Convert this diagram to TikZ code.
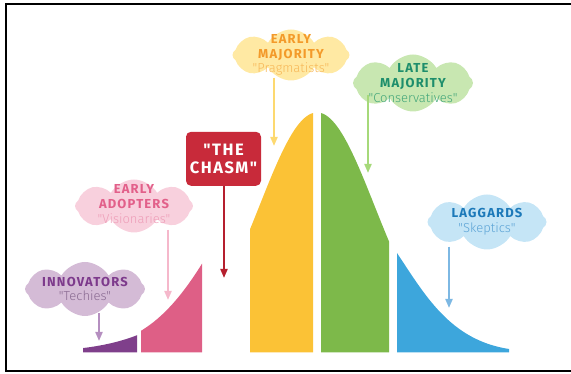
\documentclass[tikz,border=0pt]{standalone}
\usepackage{fontspec}
\setmainfont{Fira Sans}
\newfontfamily\headfont[LetterSpace=9]{Fira Sans}
\IfFontExistsTF{Fira Sans Light}{\newfontfamily\tagfont{Fira Sans Light}}{\newfontfamily\tagfont{Fira Sans}}
\usetikzlibrary{shapes.symbols,arrows.meta}

\definecolor{innobar}{HTML}{7F3F8B}
\definecolor{innofill}{HTML}{D4BBD6}
\definecolor{innohead}{HTML}{7D3A8C}
\definecolor{innotag}{HTML}{8A6B92}
\definecolor{innoarrow}{HTML}{B58FC0}
\definecolor{adoptbar}{HTML}{DE5F86}
\definecolor{adoptfill}{HTML}{F8D0DD}
\definecolor{adopthead}{HTML}{E2608A}
\definecolor{adopttag}{HTML}{EE9DB8}
\definecolor{adoptarrow}{HTML}{F5B8CB}
\definecolor{chasmred}{HTML}{C82A3A}
\definecolor{chasmarrow}{HTML}{B51F2E}
\definecolor{earlybar}{HTML}{FBC236}
\definecolor{earlyfill}{HTML}{FFE9A3}
\definecolor{earlyhead}{HTML}{F39A2A}
\definecolor{earlytag}{HTML}{F7B757}
\definecolor{earlyarrow}{HTML}{FDD970}
\definecolor{latebar}{HTML}{7DB94A}
\definecolor{latefill}{HTML}{C8E7B1}
\definecolor{latehead}{HTML}{1E8E6C}
\definecolor{latetag}{HTML}{43A67A}
\definecolor{latearrow}{HTML}{A6D97A}
\definecolor{lagbar}{HTML}{3DA6DC}
\definecolor{lagfill}{HTML}{C5E5F6}
\definecolor{laghead}{HTML}{1C79B9}
\definecolor{lagtag}{HTML}{5DA4D6}
\definecolor{lagarrow}{HTML}{7DB8E3}

\newcommand{\tagline}[2]{\tagfont\mdseries\color{#1}#2}

\tikzset{
  bubble/.style={cloud, cloud puffs=8, cloud puff arc=120, cloud ignores aspect,
    inner sep=0pt, minimum width=120pt, minimum height=54pt},
  bubbletext/.style={align=center, inner sep=0pt, font=\fontsize{13}{14.8}\selectfont\headfont\bfseries},
  pointer/.style={line width=2pt, -{Triangle[width=7pt,length=9pt]}, shorten <=-3pt}
}

\begin{document}
\begin{tikzpicture}[x=1pt, y=-1pt]
    \useasboundingbox (0,0) rectangle (571,374);
    \draw[line width=2.4pt] (571,4.3) -- (6,4.3) -- (6,371.3) -- (571,371.3);

    % the bell curve
    \fill[innobar] (83,352.5) -- plot[domain=83:137, samples=30] (\x,{352.5-240*exp(-0.5*((\x-371)/102)^2)}) -- (137,352.5) -- cycle;
    \fill[adoptbar] (141,352.5) -- plot[domain=141:202, samples=30] (\x,{352.5-240*exp(-0.5*((\x-312)/78)^2)}) -- (202,352.5) -- cycle;
    \fill[earlybar] (250,352.5) -- plot[domain=250:313, samples=40] (\x,{352.5-240*exp(-0.5*((\x-317)/58)^2)}) -- (313,352.5) -- cycle;
    \fill[latebar] (321,352.5) -- plot[domain=321:389, samples=40] (\x,{352.5-240*exp(-0.5*((\x-317)/58)^2)}) -- (389,352.5) -- cycle;
    \fill[lagbar] (397,352.5) -- (397,253) .. controls (425,295) and (450,340) .. (509,349) -- (509,352.5) -- cycle;

    % clouds
    \node (innocloud) at (85,289) [bubble, fill=innofill] {};
    \node (adoptcloud) at (134,206) [bubble, fill=adoptfill, minimum width=118pt, minimum height=53pt] {};
    \node (earlycloud) at (291,55) [bubble, fill=earlyfill, minimum width=117pt, minimum height=51pt] {};
    \node (latecloud) at (413,83) [bubble, fill=latefill, minimum height=57pt] {};
    \node (lagcloud) at (487,222) [bubble, fill=lagfill, minimum width=119pt, minimum height=55pt] {};

    \node (chasm) at (223.5,158.8) [fill=chasmred, rounded corners=5pt, minimum width=75pt, minimum height=54pt,
        align=center, inner sep=0pt, text=white, font=\fontsize{16.5}{18.5}\selectfont\headfont\bfseries] {"THE\\CHASM"};

    % arrows
    \coordinate (innotip) at (99,341);
    \coordinate (adopttip) at (168,300);
    \coordinate (chasmtip) at (224,278);
    \coordinate (earlytip) at (274,146);
    \coordinate (latetip) at (368,173);
    \coordinate (lagtip) at (449,308);
    \draw[pointer, innoarrow] (innocloud.south -| innotip) -- (innotip);
    \draw[pointer, adoptarrow] (adoptcloud.south -| adopttip) -- (adopttip);
    \draw[pointer, chasmarrow, shorten <=0pt] (chasm.south -| chasmtip) -- (chasmtip);
    \draw[pointer, earlyarrow] (earlycloud.south -| earlytip) -- (earlytip);
    \draw[pointer, latearrow, shorten <=-17pt] (latecloud.south -| latetip) -- (latetip);
    \draw[pointer, lagarrow] (lagcloud.south -| lagtip) -- (lagtip);

    % cloud texts
    \node (innotext) at (innocloud) [bubbletext, text=innohead] {INNOVATORS\\\tagline{innotag}{"Techies"}};
    \node (adopttext) at (adoptcloud) [bubbletext, text=adopthead, yshift=2pt] {EARLY\\ADOPTERS\\\tagline{adopttag}{"Visionaries"}};
    \node (earlytext) at (earlycloud) [bubbletext, text=earlyhead] {EARLY\\MAJORITY\\\tagline{earlytag}{"Pragmatists"}};
    \node (latetext) at (latecloud) [bubbletext, text=latehead] {LATE\\MAJORITY\\\tagline{latetag}{"Conservatives"}};
    \node (lagtext) at (lagcloud) [bubbletext, text=laghead] {LAGGARDS\\\tagline{lagtag}{"Skeptics"}};
\end{tikzpicture}
\end{document}
